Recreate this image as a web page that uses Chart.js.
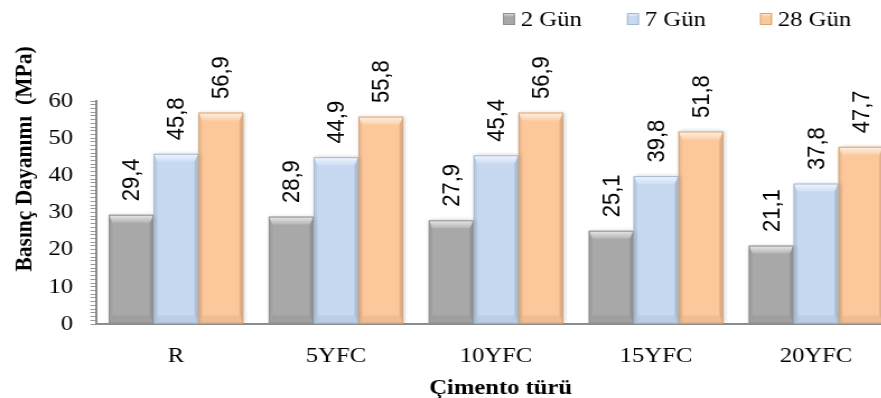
<!DOCTYPE html>
<html>
<head>
<meta charset="utf-8">
<script src="https://cdn.jsdelivr.net/npm/chart.js@4/dist/chart.umd.min.js"></script>
<style>
  html, body { margin: 0; padding: 0; background: #fff; overflow: hidden; width: 881px; height: 398px; }
  #wrap { width: 810px; height: 398px; transform: scaleX(1.12); transform-origin: 0 0; }
  canvas { display: block; }
</style>
</head>
<body>
<div id="wrap"><canvas id="c" width="810" height="398"></canvas></div>
<script>
// Cement types and compressive strength (MPa) at each curing age
const categories = ['R', '5YFC', '10YFC', '15YFC', '20YFC'];
const seriesNames = ['2 Gün', '7 Gün', '28 Gün'];
const gun2 = [29.4, 28.9, 27.9, 25.1, 21.1];
const gun7 = [45.8, 44.9, 45.4, 39.8, 37.8];
const gun28 = [56.9, 55.8, 56.9, 51.8, 47.7];
const yTicksMajor = [0, 10, 20, 30, 40, 50, 60];

const fills = ['#a8a8a8', '#c6d9f1', '#fcc89b'];
const edges = ['#8e8e8e', '#a3b8d3', '#d8a477'];
const serif = '"Liberation Serif", "Times New Roman", serif';
const sans = '"Liberation Sans", Arial, sans-serif';

const fmt = v => String(v).replace('.', ',');

// Bevelled look on each bar, drawn over the bar rectangles, then the value labels
const bevelPlugin = {
  id: 'bevel',
  beforeDatasetsDraw(chart) {
    const ctx = chart.ctx;
    ctx.save();
    ctx.shadowColor = 'rgba(0,0,0,0.2)';
    ctx.shadowBlur = 4;
    ctx.shadowOffsetX = 1;
    ctx.shadowOffsetY = 0;
  },
  afterDatasetsDraw(chart) {
    const ctx = chart.ctx;
    ctx.restore();
    chart.data.datasets.forEach((ds, di) => {
      const meta = chart.getDatasetMeta(di);
      meta.data.forEach(bar => {
        const p = bar.getProps(['x', 'y', 'base', 'width'], true);
        const l = p.x - p.width / 2, r = p.x + p.width / 2;
        const t = p.y, b = p.base;
        const bv = 8, s = 3.4;
        const poly = (pts, style) => {
          ctx.beginPath();
          ctx.moveTo(pts[0][0], pts[0][1]);
          for (let i = 1; i < pts.length; i++) ctx.lineTo(pts[i][0], pts[i][1]);
          ctx.closePath();
          ctx.fillStyle = style;
          ctx.fill();
        };
        const g = ctx.createLinearGradient(0, t, 0, t + bv);
        g.addColorStop(0, 'rgba(255,255,255,0.75)');
        g.addColorStop(1, 'rgba(255,255,255,0.15)');
        poly([[l, t], [r, t], [r - s, t + bv], [l + s, t + bv]], g);
        poly([[l, b], [r, b], [r - s, b - bv], [l + s, b - bv]], 'rgba(0,0,0,0.05)');
        poly([[l, t], [l + s, t + bv], [l + s, b - bv], [l, b]], 'rgba(0,0,0,0.05)');
        poly([[r, t], [r - s, t + bv], [r - s, b - bv], [r, b]], 'rgba(0,0,0,0.12)');
        ctx.strokeStyle = edges[di];
        ctx.lineWidth = 1;
        ctx.strokeRect(l + 0.5, t + 0.5, p.width - 1, b - t - 1);
      });
    });
    ctx.save();
    ctx.fillStyle = '#000';
    ctx.font = '22px ' + sans;
    ctx.textAlign = 'left';
    ctx.textBaseline = 'middle';
    chart.data.datasets.forEach((ds, di) => {
      const meta = chart.getDatasetMeta(di);
      meta.data.forEach((bar, i) => {
        ctx.save();
        ctx.translate(bar.x + 1, bar.y - 13.5);
        ctx.rotate(-Math.PI / 2);
        ctx.fillText(fmt(ds.data[i]), 0, 0);
        ctx.restore();
      });
    });
    ctx.restore();
  }
};

// Axis titles and legend
const decorPlugin = {
  id: 'decor',
  afterDraw(chart) {
    const ctx = chart.ctx;
    ctx.save();
    ctx.fillStyle = '#000';
    ctx.font = 'bold 21.5px ' + serif;
    ctx.textAlign = 'center';
    ctx.textBaseline = 'middle';
    ctx.save();
    ctx.translate(22.3, 159);
    ctx.rotate(-Math.PI / 2);
    ctx.fillText('Basınç Dayanımı  (MPa)', 0, 0);
    ctx.restore();
    ctx.font = 'bold 22px ' + serif;
    ctx.textBaseline = 'alphabetic';
    ctx.fillText('Çimento türü', 447, 394);

    const boxX = [449.1, 559.8, 678.6];
    ctx.font = '22px ' + serif;
    ctx.textAlign = 'left';
    seriesNames.forEach((name, i) => {
      const x = boxX[i];
      ctx.fillStyle = fills[i];
      ctx.fillRect(x, 13, 10.7, 12);
      const g = ctx.createLinearGradient(0, 13, 0, 17);
      g.addColorStop(0, 'rgba(255,255,255,0.7)');
      g.addColorStop(1, 'rgba(255,255,255,0)');
      ctx.fillStyle = g;
      ctx.fillRect(x, 13, 10.7, 4);
      ctx.strokeStyle = edges[i];
      ctx.lineWidth = 1;
      ctx.strokeRect(x + 0.5, 13.5, 9.7, 11);
      ctx.fillStyle = '#000';
      ctx.fillText(name, x + 16, 26);
    });
    ctx.restore();
  }
};

new Chart(document.getElementById('c'), {
  type: 'bar',
  data: {
    labels: categories,
    datasets: [gun2, gun7, gun28].map((d, i) => ({
      label: seriesNames[i],
      data: d,
      backgroundColor: fills[i],
      borderWidth: 0,
      barPercentage: 1,
      categoryPercentage: 0.841
    }))
  },
  options: {
    responsive: false,
    animation: false,
    devicePixelRatio: 1,
    events: [],
    layout: { padding: { top: 101, right: 10, left: 0, bottom: 0 } },
    plugins: { legend: { display: false }, tooltip: { enabled: false } },
    scales: {
      x: {
        grid: { display: false, drawTicks: false },
        border: { display: true, color: '#8c8c8c', width: 2 },
        ticks: { color: '#000', font: { family: serif, size: 22 }, padding: 19 },
        afterFit(s) { s.height = 74; }
      },
      y: {
        min: 0,
        max: 60,
        ticks: {
          stepSize: 1,
          autoSkip: false,
          color: '#000',
          font: { family: serif, size: 22 },
          padding: 15.5,
          callback: v => yTicksMajor.includes(v) ? v : ''
        },
        grid: { drawOnChartArea: false, drawTicks: true, tickLength: 5, color: '#9a9a9a', lineWidth: 1 },
        border: { display: true, color: '#8c8c8c', width: 2 },
        afterFit(s) { s.width = 85.7; }
      }
    }
  },
  plugins: [bevelPlugin, decorPlugin]
});
</script>
</body>
</html>
